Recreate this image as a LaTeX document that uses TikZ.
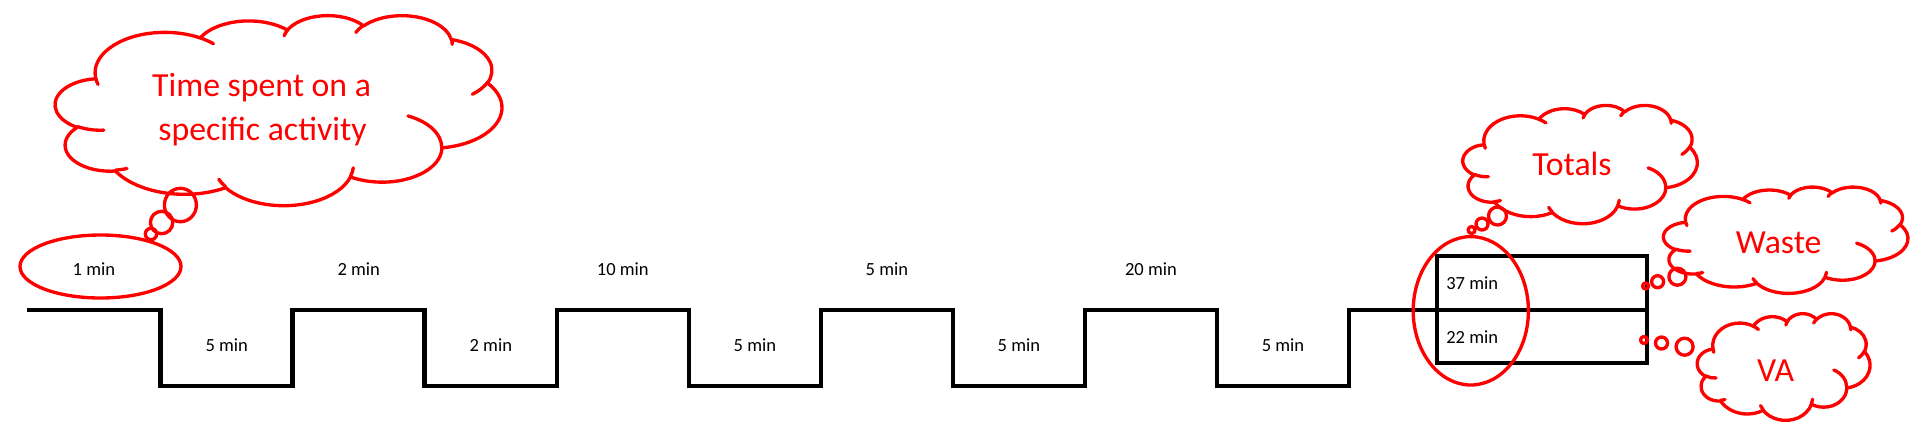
\documentclass[tikz,border=0pt]{standalone}
\usepackage{fontspec}
\setmainfont{Carlito}
\definecolor{pptred}{RGB}{255,0,0}
\tikzset{
  oo/.style n args={4}{%
    /utils/exec={%
      \pgfmathsetmacro\ooTa{atan2((#1)*sin(#3),(#2)*cos(#3))}%
      \pgfmathsetmacro\ooTbr{atan2((#1)*sin((#3)+(#4)),(#2)*cos((#3)+(#4)))}%
      \pgfmathsetmacro\ooTb{\ooTbr+360*round((\ooTa+(#4)-\ooTbr)/360)}%
    },
    x radius=#1, y radius=#2, start angle/.expanded=\ooTa, end angle/.expanded=\ooTb
  },
  redline/.style={draw=pptred, line width=2.5pt, line join=round, line cap=round},
  wave/.style={draw=black, line width=3.4pt, line join=miter},
  boxline/.style={draw=black, line width=3.6pt, line join=miter},
  small/.style={font=\fontsize{13.9}{16}\selectfont, inner sep=0pt, anchor=base, text=black},
  big/.style={font=\fontsize{25.3}{30}\selectfont, inner sep=0pt, anchor=base, text=pptred},
}
\newcommand\pptcloud[4]{%
\begin{scope}[shift={(#1,#2)},xscale=#3/43.2,yscale=#4/43.2]
\path[redline, fill=white] (3.9,14.37)
 arc[oo={6.753}{9.19}{-190.4875}{123.7805}]
 arc[oo={5.333}{7.267}{-144.1024}{89.9452}]
 arc[oo={4.365}{5.945}{-145.8079}{99.7230}]
 arc[oo={4.857}{6.595}{-130.9861}{117.2417}]
 arc[oo={5.333}{7.273}{-78.7089}{109.0269}]
 arc[oo={6.775}{9.22}{-46.2673}{130.2690}]
 arc[oo={5.785}{7.867}{0.6250}{114.0333}]
 arc[oo={6.752}{9.215}{22.4516}{115.1726}]
 arc[oo={7.72}{10.543}{66.2426}{75.7110}]
 arc[oo={4.36}{5.918}{-274.9421}{146.7356}]
 arc[oo={4.345}{5.945}{-246.8285}{152.5189}] -- cycle;
\path[redline]
 (4.693,26.177) arc[oo={4.345}{5.945}{86.742}{26.4295}]
 (6.928,34.899) arc[oo={4.36}{5.918}{73.6105}{11.4475}]
 (16.478,39.09) arc[oo={6.752}{9.215}{137.6242}{14.0811}]
 (28.827,34.751) arc[oo={6.752}{9.215}{6.4533}{15.9984}]
 (34.129,22.954) arc[oo={5.785}{7.867}{-70.2924}{70.9174}]
 (41.798,15.354) arc[oo={5.333}{7.273}{30.318}{27.7515}]
 (38.324,5.426) arc[oo={4.857}{6.595}{-13.7443}{14.8589}]
 (29.078,3.952) arc[oo={4.857}{6.595}{-149.1815}{18.1954}]
 (22.141,4.72) arc[oo={4.365}{5.945}{-163.4943}{17.6864}]
 (14,5.192) arc[oo={6.753}{9.19}{-66.707}{12.3194}]
 (4.127,15.789) arc[oo={6.753}{9.19}{157.6544}{11.8582}];
\end{scope}}
\begin{document}
\begin{tikzpicture}[x=0.75pt,y=-0.75pt]
\useasboundingbox (0,0) rectangle (1923,430);
% waveform
\draw[wave] (27,310)
  -- (160.7,310) -- (160.7,386) -- (292.73,386) -- (292.73,310)
  -- (424.76,310) -- (424.76,386) -- (556.79,386) -- (556.79,310)
  -- (688.82,310) -- (688.82,386) -- (820.85,386) -- (820.85,310)
  -- (952.88,310) -- (952.88,386) -- (1084.91,386) -- (1084.91,310)
  -- (1216.94,310) -- (1216.94,386) -- (1348.97,386) -- (1348.97,310)
  -- (1647,310);
% totals box
\draw[boxline] (1437,256) rectangle (1647,363);
% labels
\node[small] (t1) at (93.9,275) {1 min};
\node[small] (t2) at (358.7,275) {2 min};
\node[small] (t3) at (622.8,275) {10 min};
\node[small] (t4) at (886.9,275) {5 min};
\node[small] (t5) at (1150.9,275) {20 min};
\node[small] (b1) at (226.7,351.7) {5 min};
\node[small] (b2) at (490.8,351.7) {2 min};
\node[small] (b3) at (754.9,351.7) {5 min};
\node[small] (b4) at (1018.9,351.7) {5 min};
\node[small] (b5) at (1283,351.7) {5 min};
\node[small, anchor=base west] (waste) at (1446,289.3) {37 min};
\node[small, anchor=base west] (va) at (1446,343.3) {22 min};
% ellipses
\draw[redline] (100.5,266.5) ellipse[x radius=80.5, y radius=31.5];
\draw[redline] (1470.8,310.8) ellipse[x radius=57.6, y radius=74.2];
% clouds
\pptcloud{55.4}{15}{446.4}{190}
\pptcloud{1462.9}{105}{234.4}{118.3}
\pptcloud{1663.5}{186.7}{244.4}{106.3}
\pptcloud{1697.3}{313.3}{172.7}{106.7}
% bubbles
\draw[redline] (180.4,205) ellipse[x radius=16, y radius=16.7];
\draw[redline] (161.6,222.5) circle[radius=11.2];
\draw[redline] (151,234) circle[radius=5.7];
\draw[redline] (1497.5,216) circle[radius=9];
\draw[redline] (1482,224) circle[radius=6];
\draw[redline] (1471.6,230) circle[radius=3.5];
\draw[redline] (1677.4,276.7) circle[radius=8.5];
\draw[redline] (1657.6,281.7) circle[radius=6];
\draw[redline] (1645.6,286) circle[radius=3];
\draw[redline] (1644,340) circle[radius=3.5];
\draw[redline] (1661.5,343) circle[radius=6];
\draw[redline] (1684.6,346.7) circle[radius=8.5];
% cloud texts
\node[big] (c1a) at (261.6,96.7) {Time spent on a};
\node[big] (c1b) at (262.5,140) {specific activity};
\node[big] (ctot) at (1572,175) {Totals};
\node[big] (cwaste) at (1778.7,253.3) {Waste};
\node[big] (cva) at (1775.6,381) {VA};
\end{tikzpicture}
\end{document}
